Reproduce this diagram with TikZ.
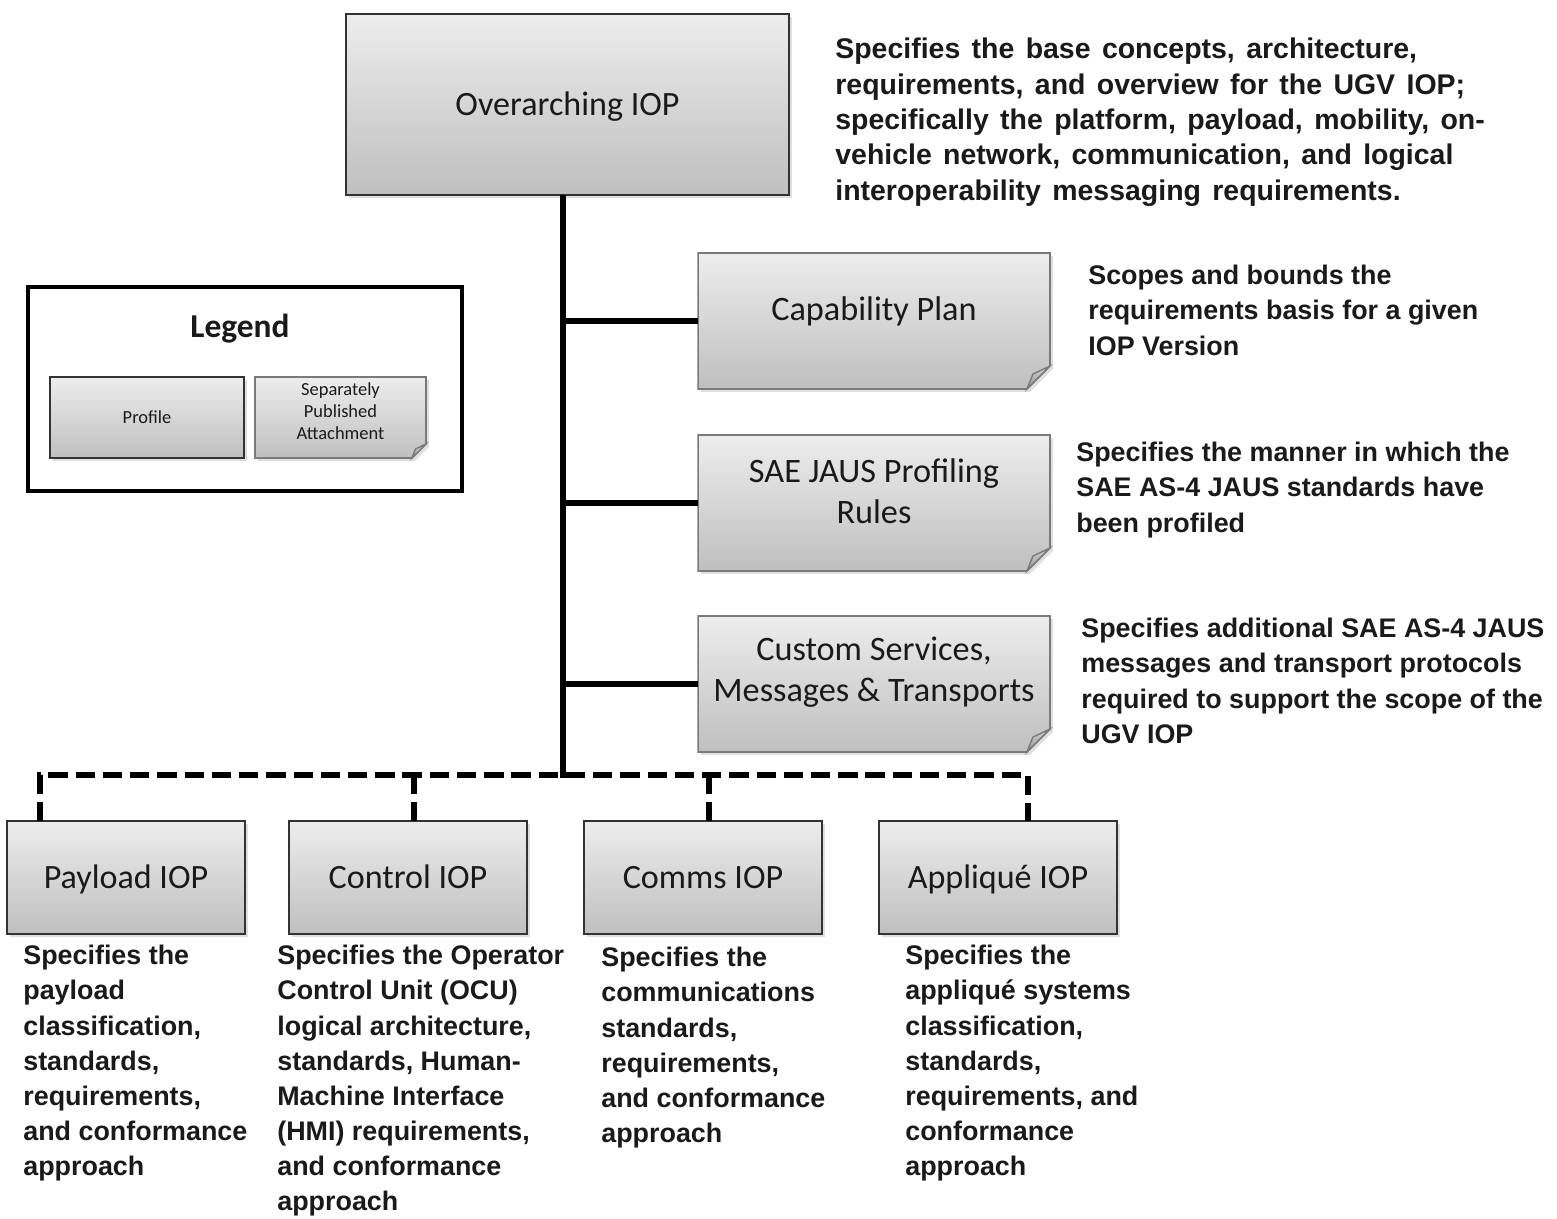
\documentclass[tikz,border=0pt]{standalone}
\usepackage{fontspec}
\setmainfont{Carlito}
\newfontfamily\descfont{Liberation Sans}
\usetikzlibrary{backgrounds,shadows}
\definecolor{boxtop}{HTML}{EDEDED}
\definecolor{boxbot}{HTML}{BFBFBF}
\definecolor{boxline}{HTML}{333333}
\definecolor{attline}{HTML}{7A7A7A}
\definecolor{txt}{HTML}{1A1A1A}
\definecolor{foldtop}{HTML}{D4D4D4}
\definecolor{foldbot}{HTML}{959595}
\newcommand\widespace{\spaceskip=0.40em plus 0.1em minus 0.05em\relax}
\tikzset{
  shadebox/.style={top color=boxtop, bottom color=boxbot, line width=0.9pt,
    drop shadow={opacity=0.25, shadow xshift=0.06cm, shadow yshift=-0.06cm}},
  profbox/.style={shadebox, draw=boxline, inner sep=0pt, outer sep=0pt, text=txt,
    font=\fontsize{19.4}{23}\selectfont, align=center, text height=12pt, text depth=0pt},
  attbox/.style={inner sep=0pt, outer sep=0pt},
  atttext/.style={inner sep=0pt, text=txt, font=\fontsize{19.5}{23.2}\selectfont, align=center},
  attshape/.style={shadebox, draw=attline},
  foldtri/.style={top color=foldtop, bottom color=foldbot, draw=attline, line width=0.8pt},
  desc/.style={anchor=north west, inner sep=0pt, align=left, text=txt,
    font=\descfont\bfseries\fontsize{15.3}{20}\selectfont},
  topdesc/.style={desc, font=\descfont\bfseries\fontsize{16.2}{20.1}\selectfont\widespace},
  trunk/.style={line width=3.2pt, black},
  dashlink/.style={line width=3.4pt, black, dash pattern=on 11pt off 4.5pt},
}
% #1 node name, #2 fold size
\newcommand\foldshape[2]{%
  \path[attshape] (#1.north west) -- (#1.north east) -- ([yshift=#2]#1.south east)
    -- ([xshift=-#2]#1.south east) -- (#1.south west) -- cycle;
  \path[foldtri] ([yshift=#2]#1.south east) -- ([xshift=-#2]#1.south east)
    -- ([xshift=-0.74*#2, yshift=0.65*#2]#1.south east) -- cycle;
}
\begin{document}
\begin{tikzpicture}[x=0.02cm, y=-0.02cm]
\useasboundingbox (0,0) rectangle (1557,1218);
\begin{scope}[on background layer]
  \fill[white] (0,0) rectangle (1557,1218);
\end{scope}

% main profile box
\node[profbox, minimum width=8.86cm, minimum height=3.62cm] (over) at (567.5,104.5) {Overarching IOP};

% attachments
\node[attbox, minimum width=7.04cm, minimum height=2.72cm] (cap) at (874,321) {};
\node[attbox, minimum width=7.04cm, minimum height=2.72cm] (sae) at (874,503) {};
\node[attbox, minimum width=7.04cm, minimum height=2.72cm] (cust) at (874,684) {};
\begin{scope}[on background layer]
  \foldshape{cap}{0.46cm}
  \foldshape{sae}{0.46cm}
  \foldshape{cust}{0.46cm}
\end{scope}
\node[atttext] (captext) at (874,311) {Capability Plan};
\node[atttext] (saetext) at (874,491.5) {SAE JAUS Profiling\\Rules};
\node[atttext] (custtext) at (874,672.5) {Custom Services,\\Messages \& Transports};

% bottom profiles
\node[profbox, minimum width=4.76cm, minimum height=2.26cm] (pay) at (126,877.5) {Payload IOP};
\node[profbox, minimum width=4.76cm, minimum height=2.26cm] (ctl) at (408,877.5) {Control IOP};
\node[profbox, minimum width=4.76cm, minimum height=2.26cm] (com) at (703,877.5) {Comms IOP};
\node[profbox, minimum width=4.76cm, minimum height=2.26cm] (app) at (998,877.5) {Appliqué IOP};

% legend
\node[draw=black, line width=2.3pt, minimum width=8.68cm, minimum height=4.08cm, inner sep=0pt] (legend) at (245,389) {};
\node[inner sep=0pt, text=txt, font=\bfseries\fontsize{19}{23}\selectfont] (legtitle) at (240,329) {Legend};
\node[profbox, minimum width=3.88cm, minimum height=1.62cm, font=\fontsize{10.5}{12.5}\selectfont, text height=6.6pt] (prof) at (147,417.5) {Profile};
\node[attbox, minimum width=3.42cm, minimum height=1.62cm] (att) at (340.5,417.5) {};
\begin{scope}[on background layer]
  \foldshape{att}{0.28cm}
\end{scope}
\node[atttext, font=\fontsize{10.5}{12.6}\selectfont] (atttxt) at (340.5,411) {Separately\\Published\\Attachment};

% connectors
\coordinate (j) at (563,775);
\coordinate (d1) at (40,775);
\coordinate (d2) at (414,775);
\coordinate (d3) at (709,775);
\coordinate (d4) at (1028,775);
\draw[trunk] (over.south -| j) -- ([yshift=-1.6pt]j);
\draw[trunk] (cap.west -| j) -- (cap.west);
\draw[trunk] (sae.west -| j) -- (sae.west);
\draw[trunk] (cust.west -| j) -- (cust.west);
\draw[dashlink] (d1 |- pay.north) -- (d1) -- (d4) -- (d4 |- app.north);
\draw[dashlink] (d2) -- (d2 |- ctl.north);
\draw[dashlink] (d3) -- (d3 |- com.north);

% descriptions
\node[topdesc] (dover) at (835,38) {Specifies the base concepts, architecture,\\requirements, and overview for the UGV IOP;\\specifically the platform, payload, mobility, on-\\vehicle network, communication, and logical\\interoperability messaging requirements.};
\node[desc] (dcap) at (1088,265) {Scopes and bounds the\\requirements basis for a given\\IOP Version};
\node[desc] (dsae) at (1076,442) {Specifies the manner in which the\\SAE AS-4 JAUS standards have\\been profiled};
\node[desc] (dcust) at (1081,618) {Specifies additional SAE AS-4 JAUS\\messages and transport protocols\\required to support the scope of the\\UGV IOP};
\node[desc] (dpay) at (23,945) {Specifies the\\payload\\classification,\\standards,\\requirements,\\and conformance\\approach};
\node[desc] (dctl) at (277,945) {Specifies the Operator\\Control Unit (OCU)\\logical architecture,\\standards, Human-\\Machine Interface\\(HMI) requirements,\\and conformance\\approach};
\node[desc] (dcom) at (601,947) {Specifies the\\communications\\standards,\\requirements,\\and conformance\\approach};
\node[desc] (dapp) at (905,945) {Specifies the\\appliqué systems\\classification,\\standards,\\requirements, and\\conformance\\approach};
\end{tikzpicture}
\end{document}
